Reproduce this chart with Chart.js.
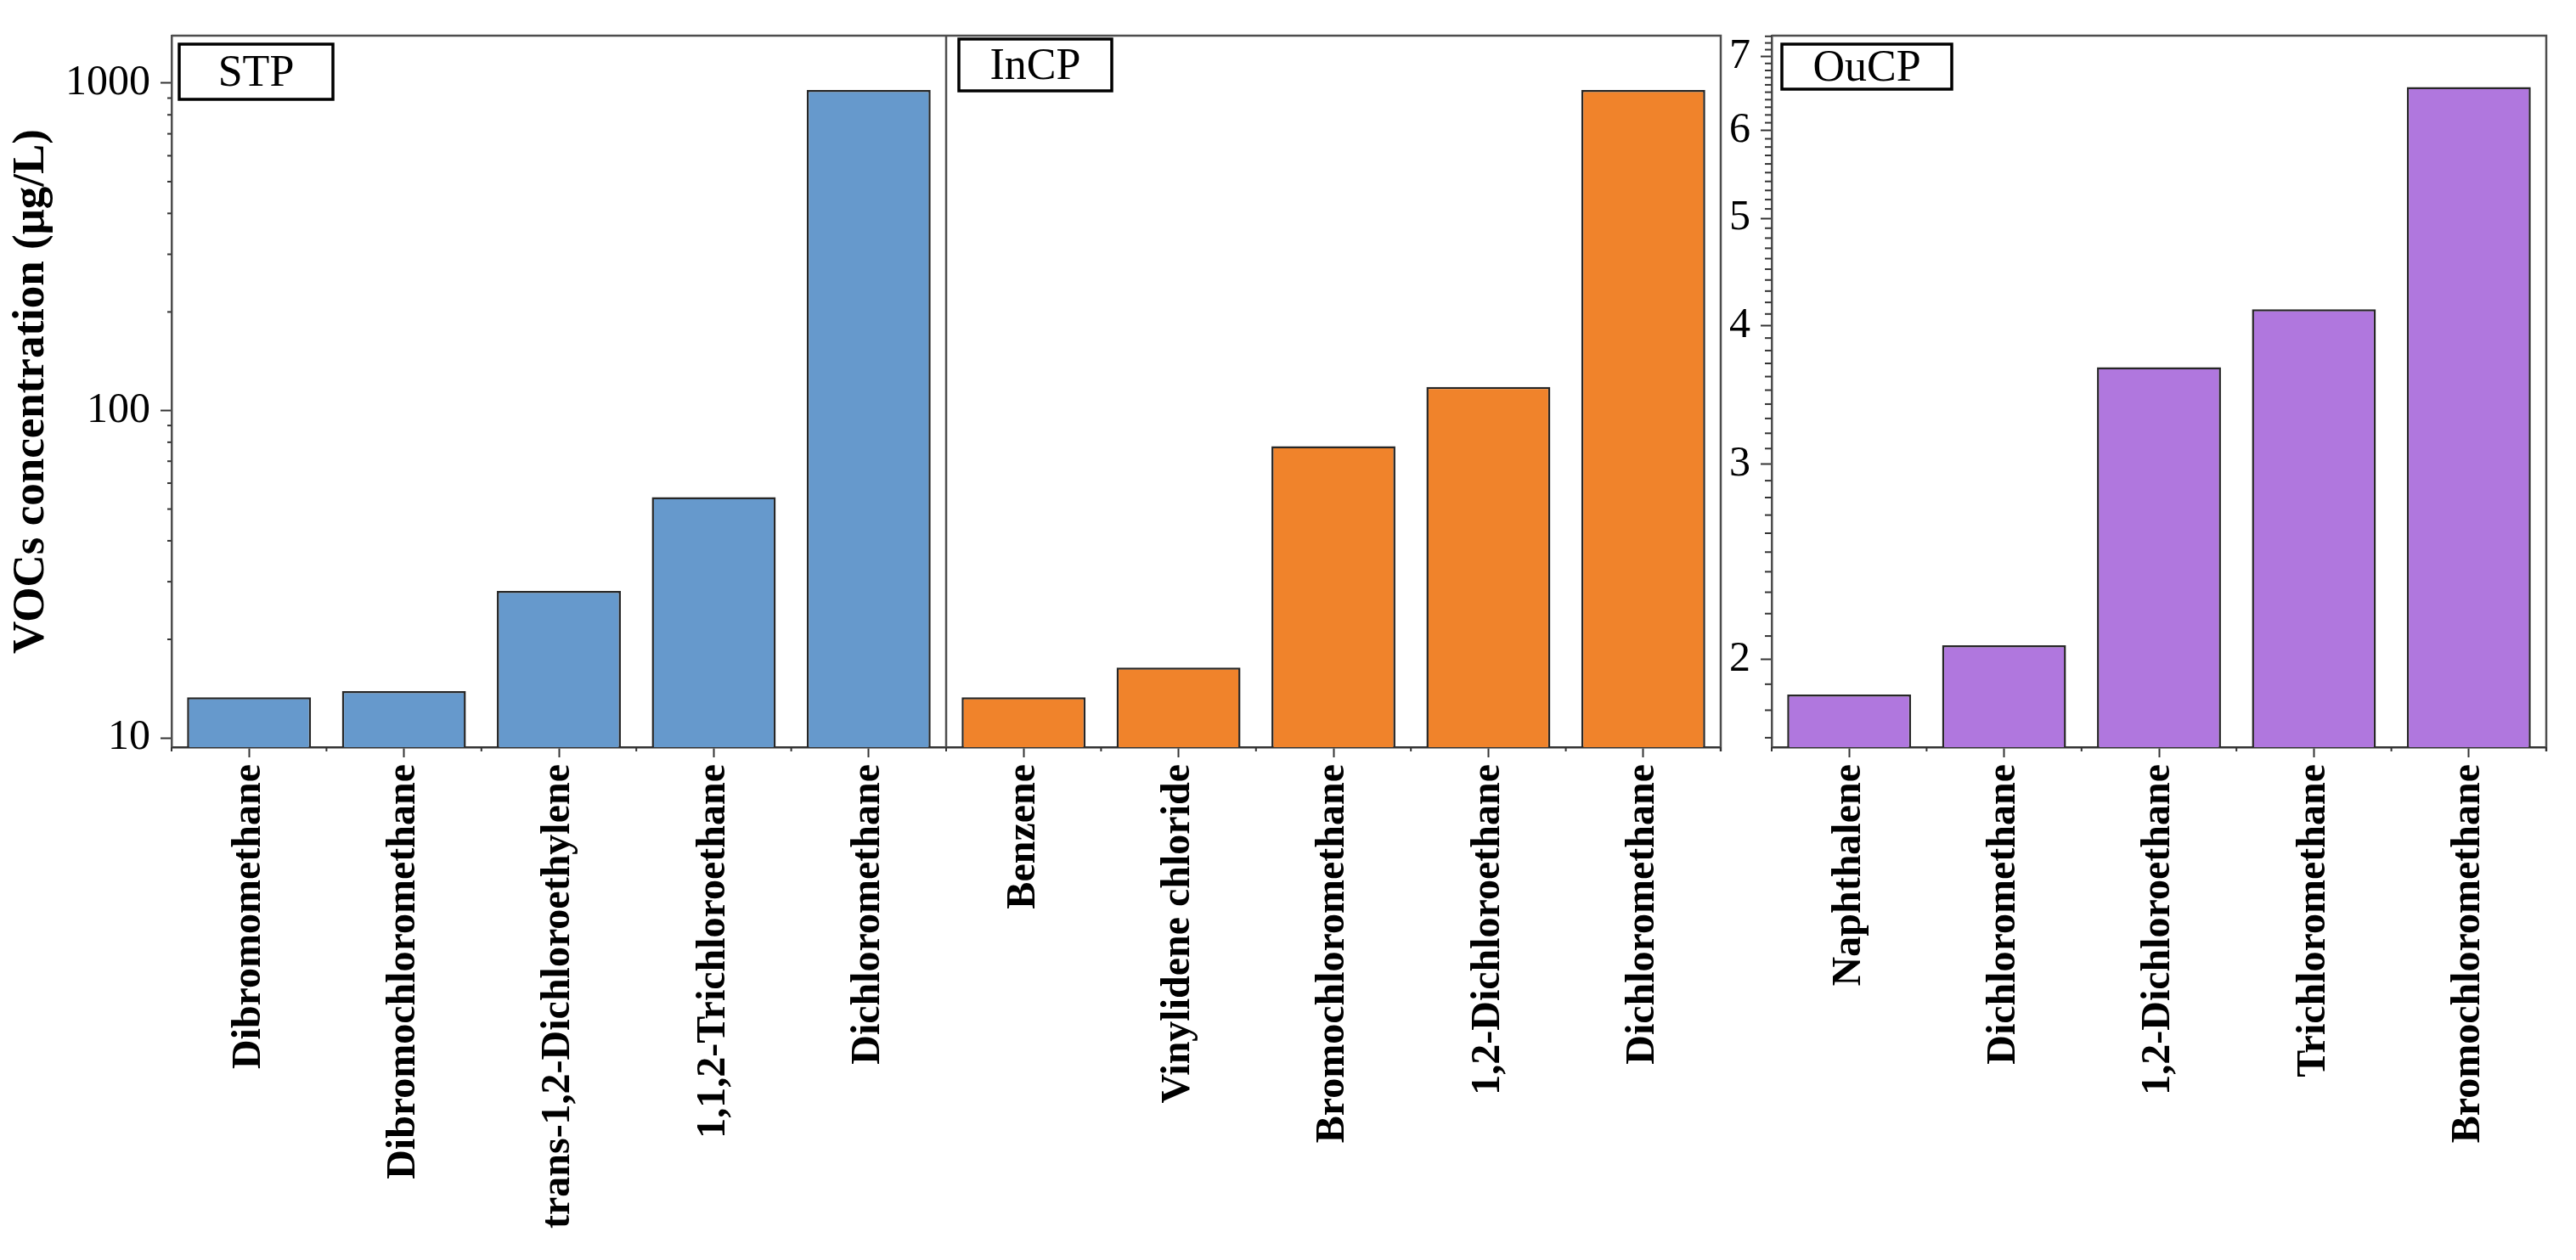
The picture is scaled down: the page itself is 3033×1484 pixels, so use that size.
<!DOCTYPE html>
<html>
<head>
<meta charset="utf-8">
<script src="https://cdn.jsdelivr.net/npm/chart.js@4.4.1/dist/chart.umd.min.js"></script>
<style>
  html, body { margin: 0; padding: 0; background: #fff; }
  #wrap { position: relative; width: 3033px; height: 1484px; overflow: hidden; }
  canvas { position: absolute; top: 0; }
</style>
</head>
<body>
<div id="wrap">
  <canvas id="left" width="2040" height="1484" style="left:0"></canvas>
  <canvas id="right" width="1007" height="1484" style="left:2026px"></canvas>
</div>
<script>
const stpLabels = ['Dibromomethane', 'Dibromochloromethane', 'trans-1,2-Dichloroethylene', '1,1,2-Trichloroethane', 'Dichloromethane'];
const stpValues = [13.3, 13.9, 28.1, 54.4, 953];
const incpLabels = ['Benzene', 'Vinylidene chloride', 'Bromochloromethane', '1,2-Dichloroethane', 'Dichloromethane'];
const incpValues = [13.3, 16.4, 77.8, 118, 953];
const oucpLabels = ['Naphthalene', 'Dichloromethane', '1,2-Dichloroethane', 'Trichloromethane', 'Bromochloromethane'];
const oucpValues = [1.86, 2.06, 3.67, 4.14, 6.57];
const leftTicks = [10, 100, 1000];
const rightTicks = [2, 3, 4, 5, 6, 7];

const SERIF = '"Liberation Serif", "Times New Roman", serif';
Chart.defaults.font.family = SERIF;
Chart.defaults.color = '#000';

// minor tick positions (axis decoration only)
const leftMinor = [];
for (let d = 10; d <= 100; d *= 10) {
  for (let k = 2; k <= 9; k++) leftMinor.push(k * d);
}
const rightMinor = [];
for (let k = 17; k <= 73; k++) {
  if (k % 10 !== 0) rightMinor.push(k / 10);
}

function framePlugin(opts) {
  return {
    id: 'frame',
    afterDraw(chart) {
      const { ctx, chartArea: a } = chart;
      const x = chart.scales.x, y = chart.scales.y;
      ctx.save();
      // top + right frame
      ctx.strokeStyle = '#4d4d4d';
      ctx.lineWidth = 2.5;
      ctx.beginPath();
      ctx.moveTo(a.left, a.top);
      ctx.lineTo(a.right, a.top);
      ctx.lineTo(a.right, a.bottom + 5);
      ctx.stroke();

      // panel dividers
      opts.dividers.forEach(i => {
        const px = x.getPixelForValue(i - 0.5);
        ctx.beginPath();
        ctx.moveTo(px, a.top);
        ctx.lineTo(px, a.bottom);
        ctx.stroke();
      });

      // minor y ticks
      ctx.strokeStyle = '#333';
      ctx.lineWidth = 2;
      opts.minor.forEach(v => {
        const py = y.getPixelForValue(v);
        ctx.beginPath();
        ctx.moveTo(a.left - opts.minorLen, py);
        ctx.lineTo(a.left, py);
        ctx.stroke();
      });

      // category boundary ticks
      for (let i = 0; i <= x.ticks.length; i++) {
        const px = x.getPixelForValue(i - 0.5);
        ctx.beginPath();
        ctx.moveTo(px, a.bottom);
        ctx.lineTo(px, a.bottom + 5);
        ctx.stroke();
      }

      // panel name boxes
      opts.boxes.forEach(b => {
        const bx = x.getPixelForValue(b.index - 0.5) + b.dx;
        ctx.fillStyle = '#fff';
        ctx.fillRect(bx, b.y, b.w, b.h);
        ctx.strokeStyle = '#000';
        ctx.lineWidth = 3.5;
        ctx.strokeRect(bx, b.y, b.w, b.h);
        ctx.fillStyle = '#000';
        ctx.font = '52px ' + SERIF;
        ctx.textAlign = 'center';
        ctx.textBaseline = 'middle';
        ctx.fillText(b.text, bx + b.w / 2, b.y + b.h / 2 + 3);
      });
      ctx.restore();
    }
  };
}

function xAxis() {
  return {
    type: 'category',
    offset: true,
    afterFit: s => { s.height = 1484 - 880; },
    grid: { offset: false, drawOnChartArea: false, drawTicks: true, tickLength: 12, tickColor: '#333', tickWidth: 2 },
    border: { display: true, color: '#333', width: 2.5 },
    ticks: {
      autoSkip: false, minRotation: 90, maxRotation: 90, padding: 8,
      color: '#000',
      font: { family: SERIF, size: 48, weight: 'bold' }
    }
  };
}

function yAxis(min, max, ticks, width, withTitle) {
  return {
    type: 'logarithmic',
    min: min,
    max: max,
    afterFit: s => { s.width = width; },
    afterBuildTicks: s => { s.ticks = ticks.map(v => ({ value: v })); },
    grid: { drawOnChartArea: false, drawTicks: true, tickLength: 13, tickColor: '#333', tickWidth: 2 },
    border: { display: true, color: '#4d4d4d', width: 2.5 },
    ticks: {
      padding: 12,
      color: '#000',
      font: { family: SERIF, size: 50 },
      callback: v => String(v)
    },
    title: {
      display: withTitle,
      text: 'VOCs concentration (μg/L)',
      color: '#000',
      font: { family: SERIF, size: 53, weight: 'bold' },
      padding: { top: 6, bottom: 0 }
    }
  };
}

const leftColors = stpValues.map(() => '#6699cc').concat(incpValues.map(() => '#f0832b'));

new Chart(document.getElementById('left'), {
  type: 'bar',
  data: {
    labels: stpLabels.concat(incpLabels),
    datasets: [{
      data: stpValues.concat(incpValues),
      backgroundColor: leftColors,
      borderColor: '#262626',
      borderWidth: 2.5,
      barPercentage: 0.8,
      categoryPercentage: 1.0
    }]
  },
  options: {
    responsive: false,
    animation: false,
    layout: { padding: { top: 41, right: 14, left: 0, bottom: 0 } },
    plugins: { legend: { display: false }, tooltip: { enabled: false } },
    scales: {
      x: xAxis(),
      y: yAxis(9.37, 1396, leftTicks, 202, true)
    }
  },
  plugins: [framePlugin({
    minor: leftMinor, minorLen: 5, dividers: [5],
    boxes: [
      { text: 'STP', index: 0, dx: 9, y: 52, w: 181, h: 65 },
      { text: 'InCP', index: 5, dx: 15, y: 46, w: 180, h: 61 }
    ]
  })]
});

new Chart(document.getElementById('right'), {
  type: 'bar',
  data: {
    labels: oucpLabels,
    datasets: [{
      data: oucpValues,
      backgroundColor: '#b077de',
      borderColor: '#262626',
      borderWidth: 2.5,
      barPercentage: 0.8,
      categoryPercentage: 1.0
    }]
  },
  options: {
    responsive: false,
    animation: false,
    layout: { padding: { top: 41, right: 35, left: 0, bottom: 0 } },
    plugins: { legend: { display: false }, tooltip: { enabled: false } },
    scales: {
      x: xAxis(),
      y: yAxis(1.667, 7.31, rightTicks, 60, false)
    }
  },
  plugins: [framePlugin({
    minor: rightMinor, minorLen: 8, dividers: [],
    boxes: [
      { text: 'OuCP', index: 0, dx: 12, y: 52, w: 200, h: 53 }
    ]
  })]
});
</script>
</body>
</html>
